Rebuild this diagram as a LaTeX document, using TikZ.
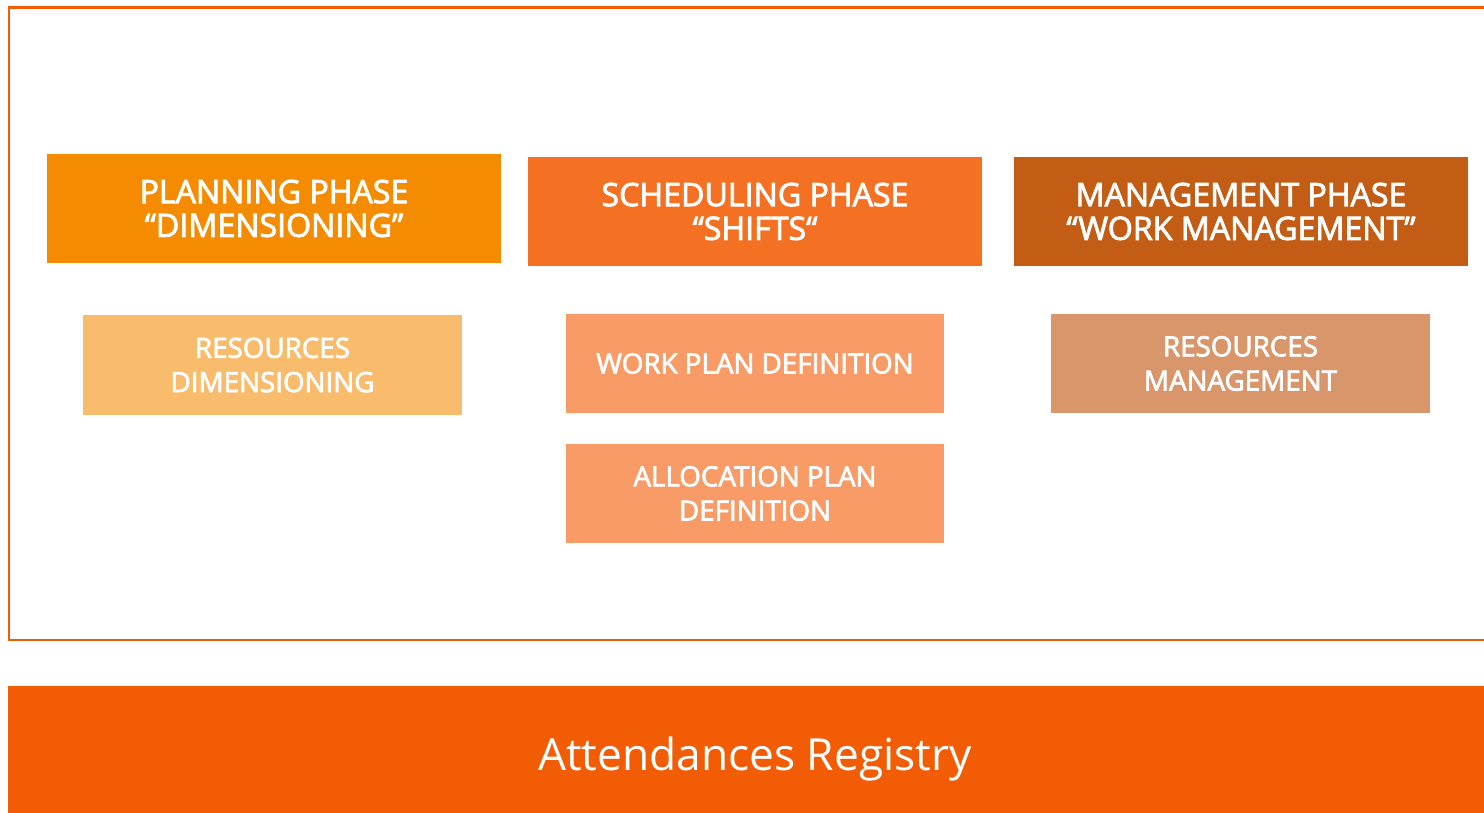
\documentclass[tikz,border=0pt]{standalone}
\usepackage{fontspec}
\setmainfont{Open Sans}
\newfontfamily\boxfont[FakeBold=2.6]{Open Sans}
\definecolor{frameorange}{RGB}{242,92,5}
\definecolor{planorange}{RGB}{245,139,0}
\definecolor{schedorange}{RGB}{244,112,34}
\definecolor{managebrown}{RGB}{195,92,20}
\definecolor{plansub}{RGB}{249,188,108}
\definecolor{schedsub}{RGB}{248,155,103}
\definecolor{managesub}{RGB}{217,150,106}
\tikzset{
  phase/.style={fill=#1, text=white, align=center, inner sep=0pt,
    minimum width=9.08cm, minimum height=2.18cm,
    font=\boxfont\fontsize{18.3}{19.2}\selectfont},
  task/.style={fill=#1, text=white, align=center, inner sep=0pt,
    minimum width=7.58cm, minimum height=2.0cm,
    font=\boxfont\fontsize{15.8}{19.5}\selectfont}
}
\begin{document}
\begin{tikzpicture}[x=0.02cm,y=-0.02cm]
\useasboundingbox (0,0) rectangle (1484,813);
\clip (0,0) rectangle (1484,813);
% outer frame, open to the right
\draw[frameorange, line width=1.7pt] (9,8) rectangle (1520,640);
% the three phases
\node[phase=planorange] (plan) at (274,208.5) {PLANNING PHASE\\“DIMENSIONING”};
\node[phase=schedorange] (sched) at (755,211.5) {SCHEDULING PHASE\\“SHIFTS“};
\node[phase=managebrown] (manage) at (1241,211.5) {MANAGEMENT PHASE\\“WORK MANAGEMENT”};
% activities below each phase
\node[task=plansub] (resdim) at (272.5,365) {RESOURCES\\DIMENSIONING};
\node[task=schedsub] (workplan) at (755,363.5) {WORK PLAN DEFINITION};
\node[task=schedsub] (alloc) at (755,493.5) {ALLOCATION PLAN\\DEFINITION};
\node[task=managesub] (resman) at (1240.5,363.5) {RESOURCES\\MANAGEMENT};
% registry bar along the bottom
\fill[frameorange] (8,686) rectangle (1520,830);
\node[text=white, font=\fontsize{25.2}{30}\selectfont] (registry) at (755,759) {Attendances Registry};
\end{tikzpicture}
\end{document}
